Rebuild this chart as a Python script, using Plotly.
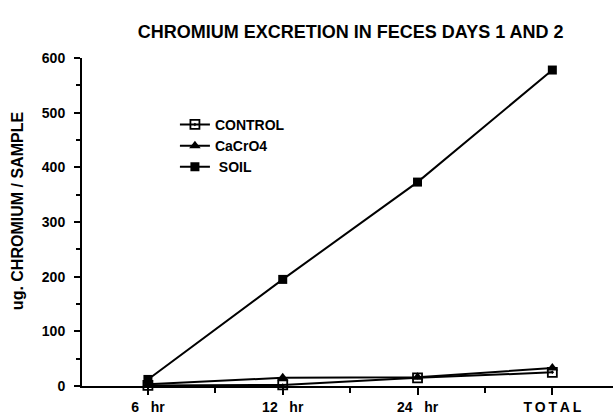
import plotly.graph_objects as go

categories = ["6\u00a0\u00a0\u00a0hr", "12\u00a0\u00a0\u00a0hr", "24\u00a0\u00a0\u00a0hr", "T\u2009O\u2009T\u2009A\u2009L"]
control = [1, 2, 15, 25]
cacro4 = [3, 15, 16, 33]
soil = [12, 195, 373, 578]
y_ticks = [0, 100, 200, 300, 400, 500, 600]

xs = list(range(len(categories)))
font = dict(family="Liberation Sans, Arial, sans-serif", color="black")

fig = go.Figure()
fig.add_trace(go.Scatter(x=xs, y=control, name="<b>CONTROL</b>", mode="lines+markers",
                         line=dict(color="black", width=2),
                         marker=dict(symbol="square-open-dot", size=9, color="black", line=dict(width=1.8)),
                         cliponaxis=False))
fig.add_trace(go.Scatter(x=xs, y=cacro4, name="<b>CaCrO4</b>", mode="lines+markers",
                         line=dict(color="black", width=2),
                         marker=dict(symbol="triangle-up", size=10, color="black"),
                         cliponaxis=False))
fig.add_trace(go.Scatter(x=xs, y=soil, name="<b>\u00a0SOIL</b>", mode="lines+markers",
                         line=dict(color="black", width=2),
                         marker=dict(symbol="square", size=9, color="black"),
                         cliponaxis=False))

fig.update_layout(
    width=613, height=418,
    margin=dict(l=82, r=0, t=58, b=32),
    paper_bgcolor="white", plot_bgcolor="white",
    showlegend=True,
    title=dict(text="<b>CHROMIUM EXCRETION IN FECES DAYS 1 AND 2</b>", x=0.572, xanchor="center",
               y=0.925, yanchor="middle", font=dict(size=18, **font)),
    legend=dict(x=0.175, y=0.845, xanchor="left", yanchor="top", bgcolor="rgba(0,0,0,0)",
                font=dict(size=14, **font), itemwidth=30, tracegroupgap=0),
    font=font,
    annotations=[dict(text="<b>ug. CHROMIUM / SAMPLE</b>", xref="paper", yref="paper",
                      x=-0.12, y=0.534, xanchor="center", yanchor="middle", textangle=-90,
                      showarrow=False, font=dict(size=16, **font))],
)
fig.update_xaxes(
    range=[-0.489, 3.45], tickvals=xs, ticktext=["<b>%s</b>" % c for c in categories],
    showline=True, linecolor="black", linewidth=2, showgrid=False, zeroline=False,
    ticks="outside", ticklen=7, tickwidth=2, tickcolor="black",
    tickfont=dict(size=14, **font),
    minor=dict(tickvals=[0.5, 1.5, 2.5], ticks="outside", ticklen=5, tickwidth=2, tickcolor="black"),
)
fig.update_yaxes(
    range=[0, 600], tickvals=y_ticks, ticktext=["<b>%d</b>" % v for v in y_ticks],
    showline=True, linecolor="black", linewidth=2, showgrid=False, zeroline=False,
    ticks="outside", ticklen=6, tickwidth=2, tickcolor="black", ticklabelstandoff=6,
    tickfont=dict(size=14, **font),
    minor=dict(dtick=50, ticks="outside", ticklen=4, tickwidth=1.5, tickcolor="black"),
)
fig.write_html("out.html", config={"displayModeBar": False},
               post_script="document.body.style.margin='0';document.body.style.overflow='hidden';")
